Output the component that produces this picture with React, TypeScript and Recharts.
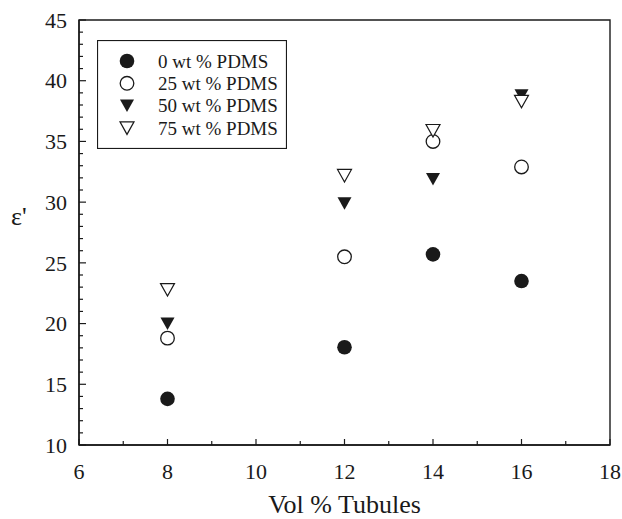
import { ScatterChart, Scatter, XAxis, YAxis, ReferenceArea, Label } from 'recharts';

// Vol % tubules (x) and permittivity ε' per PDMS loading
const VOL_TUBULES = [8, 12, 14, 16];
const PDMS_0 = [13.8, 18.05, 25.7, 23.5];
const PDMS_25 = [18.8, 25.5, 35.0, 32.9];
const PDMS_50 = [20.0, 29.9, 31.9, 38.8];
const PDMS_75 = [22.8, 32.2, 35.9, 38.3];

const X_TICKS = [6, 7, 8, 9, 10, 11, 12, 13, 14, 15, 16, 17, 18];
const X_LABELS = [6, 8, 10, 12, 14, 16, 18];
const Y_TICKS = [
  10, 11, 12, 13, 14, 15, 16, 17, 18, 19, 20, 21, 22, 23, 24, 25, 26, 27, 28, 29, 30, 31, 32, 33, 34, 35, 36, 37,
  38, 39, 40, 41, 42, 43, 44, 45,
];
const Y_LABELS = [10, 15, 20, 25, 30, 35, 40, 45];

const FONT = "'Liberation Serif', 'Times New Roman', serif";
const INK = '#1a1a1a';

type Marker = 'filledCircle' | 'openCircle' | 'filledTri' | 'openTri';

const SERIES: { name: string; values: number[]; marker: Marker }[] = [
  { name: '0 wt % PDMS', values: PDMS_0, marker: 'filledCircle' },
  { name: '25 wt % PDMS', values: PDMS_25, marker: 'openCircle' },
  { name: '50 wt % PDMS', values: PDMS_50, marker: 'filledTri' },
  { name: '75 wt % PDMS', values: PDMS_75, marker: 'openTri' },
];

function drawMarker(marker: Marker, cx: number, cy: number) {
  if (marker === 'filledCircle') return <circle cx={cx} cy={cy} r={7.3} fill={INK} />;
  if (marker === 'openCircle') return <circle cx={cx} cy={cy} r={6.8} fill="#fff" stroke={INK} strokeWidth={1.3} />;
  const pts = `${cx - 7},${cy - 6} ${cx + 7},${cy - 6} ${cx},${cy + 6.5}`;
  if (marker === 'filledTri') return <polygon points={pts} fill={INK} />;
  return <polygon points={pts} fill="#fff" stroke={INK} strokeWidth={1.2} />;
}

function XTick(props: any) {
  const { x, y, payload } = props;
  const major = X_LABELS.includes(payload.value);
  return (
    <g>
      <line x1={x} y1={y} x2={x} y2={y - (major ? 6 : 4)} stroke={INK} strokeWidth={1.2} />
      {major && (
        <text x={x} y={y + 34} textAnchor="middle" fontSize={22} fontFamily={FONT} fill={INK}>
          {payload.value}
        </text>
      )}
    </g>
  );
}

function YTick(props: any) {
  const { x, y, payload } = props;
  const major = Y_LABELS.includes(payload.value);
  return (
    <g>
      <line x1={x} y1={y} x2={x + (major ? 7 : 4)} y2={y} stroke={INK} strokeWidth={1.2} />
      {major && (
        <text x={x - 12} y={y} dy="0.35em" textAnchor="end" fontSize={22} fontFamily={FONT} fill={INK}>
          {payload.value}
        </text>
      )}
    </g>
  );
}

function LegendBox() {
  return (
    <svg width={190} height={109} style={{ position: 'absolute', left: 97, top: 40 }}>
      <rect x={0.5} y={0.5} width={189} height={108} fill="#fff" stroke={INK} strokeWidth={1.2} />
      {SERIES.map((s, i) => (
        <g key={s.name}>
          {drawMarker(s.marker, 30, 21 + i * 22.3)}
          <text x={61} y={21 + i * 22.3} dy="0.35em" fontSize={19} fontFamily={FONT} fill={INK}>
            {s.name}
          </text>
        </g>
      ))}
    </svg>
  );
}

export default function App() {
  return (
    <div style={{ position: 'fixed', left: 0, top: 0, width: 622, height: 519, background: '#fff' }}>
      <ScatterChart width={622} height={519} margin={{ top: 20, right: 12, left: 0, bottom: 0 }}>
        <XAxis
          type="number"
          dataKey="x"
          domain={[6, 18]}
          ticks={X_TICKS}
          interval={0}
          tickSize={0}
          tickMargin={0}
          tick={<XTick />}
          axisLine={{ stroke: INK, strokeWidth: 1.4 }}
          height={74}
        >
          <Label
            content={() => (
              <text x={344.5} y={513} textAnchor="middle" fontSize={26} fontFamily={FONT} fill={INK}>
                Vol % Tubules
              </text>
            )}
          />
        </XAxis>
        <YAxis
          type="number"
          dataKey="y"
          domain={[10, 45]}
          ticks={Y_TICKS}
          interval={0}
          tickSize={0}
          tickMargin={0}
          tick={<YTick />}
          axisLine={{ stroke: INK, strokeWidth: 1.4 }}
          width={79}
        >
          <Label
            content={() => (
              <text x={11} y={225} fontSize={26} fontFamily={FONT} fill={INK}>
                ε'
              </text>
            )}
          />
        </YAxis>
        <ReferenceArea x1={6} x2={18} y1={10} y2={45} fill="none" stroke={INK} strokeWidth={1.4} />
        {SERIES.map((s) => (
          <Scatter
            key={s.name}
            name={s.name}
            data={VOL_TUBULES.map((x, i) => ({ x, y: s.values[i] }))}
            isAnimationActive={false}
            shape={(p: any) => drawMarker(s.marker, p.cx, p.cy)}
          />
        ))}
      </ScatterChart>
      <LegendBox />
    </div>
  );
}
